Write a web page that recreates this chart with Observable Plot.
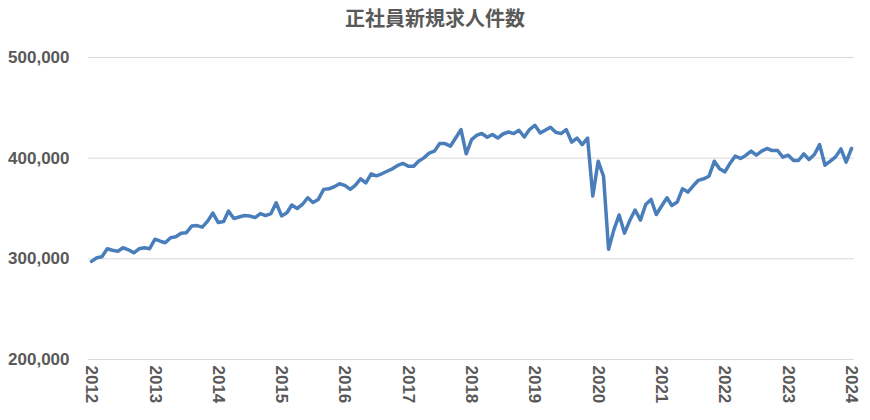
<!DOCTYPE html>
<html>
<head>
<meta charset="utf-8">
<script src="https://cdn.jsdelivr.net/npm/d3@7"></script>
<script src="https://cdn.jsdelivr.net/npm/@observablehq/plot@0.6"></script>
<style>
  body { margin: 0; background: #fff; }
  #title { height: 36px; line-height: 36px; text-align: center; font-family: "Noto Sans CJK JP", sans-serif; font-weight: bold; font-size: 20px; color: #595959; }
</style>
</head>
<body>
<div id="title">正社員新規求人件数</div>
<div id="chart"></div>
<script>
const title = "正社員新規求人件数";
const yearTicks = [2012, 2013, 2014, 2015, 2016, 2017, 2018, 2019, 2020, 2021, 2022, 2023, 2024];
const yTicks = [200000, 300000, 400000, 500000];
const v2012 = [297500, 301000, 302000, 310000, 308500, 307500, 311000, 309000, 306000, 310000, 311000, 310000];
const v2013 = [319500, 317500, 316000, 321000, 322000, 325500, 326000, 332500, 333000, 331500, 337500, 345500];
const v2014 = [336000, 337000, 347500, 340000, 341600, 343000, 342600, 341000, 345000, 343000, 345000, 355700];
const v2015 = [342600, 345800, 353500, 350000, 354000, 360700, 356000, 359000, 369000, 369600, 371600, 374600];
const v2016 = [373000, 369000, 373000, 379500, 375500, 384500, 382500, 384500, 387000, 389400, 392800, 394800];
const v2017 = [392000, 392000, 397000, 400300, 405000, 407000, 414500, 414500, 412000, 420000, 428400, 404300];
const v2018 = [418500, 422800, 424500, 420800, 423500, 420000, 424000, 426000, 424400, 427700, 421000, 428400];
const v2019 = [432700, 425000, 427700, 430700, 425700, 424400, 428400, 416000, 420000, 413500, 420000, 362400];
const v2020 = [397000, 382000, 309600, 329000, 343600, 325500, 338000, 348500, 338500, 354000, 359000, 344000];
const v2021 = [352500, 360700, 353000, 356400, 369600, 366300, 372300, 378000, 379500, 382000, 397000, 389400];
const v2022 = [386400, 395300, 402000, 399700, 402700, 407000, 403000, 407000, 409600, 407600, 407600, 401000];
const v2023 = [403000, 397700, 397700, 404300, 398700, 403600, 413500, 393000, 397000, 401300, 409200, 396000];
const v2024 = [409600];

const yearly = [v2012, v2013, v2014, v2015, v2016, v2017, v2018, v2019, v2020, v2021, v2022, v2023, v2024];
const data = [];
yearly.forEach((arr, i) => arr.forEach((v, m) => data.push({date: new Date(Date.UTC(2012 + i, m, 1)), value: v})));
const tickDates = yearTicks.map(y => new Date(Date.UTC(y, 0, 1)));

const chart = Plot.plot({
  width: 870,
  height: 384,
  marginTop: 21,
  marginBottom: 61,
  marginLeft: 91,
  marginRight: 19,
  style: {fontFamily: "'Liberation Sans', sans-serif", fontSize: "17px", fontWeight: "bold", color: "#595959", background: "#fff"},
  x: {type: "utc", domain: [tickDates[0], tickDates[tickDates.length - 1]]},
  y: {domain: [200000, 500000]},
  marks: [
    Plot.ruleY(yTicks, {stroke: "#d9d9d9", strokeWidth: 1, insetLeft: -3, insetRight: -3}),
    Plot.axisY({ticks: yTicks, tickFormat: d3.format(","), tickSize: 0, tickPadding: 22, label: null, fill: "#595959"}),
    Plot.axisX({ticks: tickDates, tickFormat: d3.utcFormat("%Y"), tickRotate: 90, tickSize: 0, tickPadding: 6, label: null, fill: "#595959"}),
    Plot.line(data, {x: "date", y: "value", stroke: "#4a7ebb", strokeWidth: 3.5, strokeLinejoin: "round", strokeLinecap: "round"})
  ]
});
document.getElementById("chart").appendChild(chart);
</script>
</body>
</html>
